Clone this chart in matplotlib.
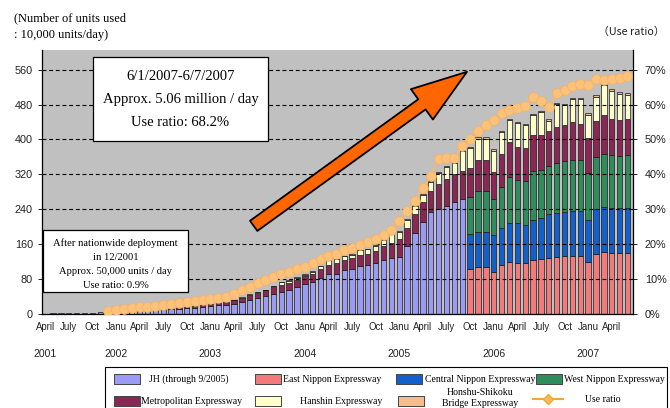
import numpy as np
import matplotlib
matplotlib.use('Agg')
import matplotlib.pyplot as plt
from matplotlib.patches import Rectangle
from matplotlib.lines import Line2D

# ---------------- data (monthly, April 2001 .. June 2007; units: 10,000 units/day) ----------------
jh = [1.0, 1.2, 1.5, 1.8, 2.0, 2.4, 2.8, 3.5,
      4.5, 5.3, 6.1, 6.9, 7.6, 8.4, 9.2, 10.4, 11.6, 12.3, 13.5, 14.6,
      16.5, 19, 19.5, 21,
      24, 28, 32, 36, 41, 46, 51, 56, 61, 68, 73, 82, 91, 92, 100, 104, 110, 112, 116, 124, 128,
      131, 155, 185, 210, 233, 241, 248, 257, 263] + [0] * 21
east = [0] * 54 + [102, 107, 107, 97, 112, 120, 118, 117, 123, 125, 129, 131, 132, 134, 134, 120, 137, 141, 139, 139, 140]
central = [0] * 54 + [81, 82, 81, 84, 84, 89, 90, 88, 92, 95, 100, 100, 101, 102, 102, 95, 104, 105, 104, 103, 103]
west = [0] * 54 + [86, 93, 93, 82, 96, 106, 98, 100, 113, 110, 111, 114, 117, 117, 117, 107, 118, 120, 121, 121, 121]
metro = [0] * 8 + [0.5, 0.7, 0.9, 1.1, 1.4, 1.6, 1.8, 2.1, 2.4, 2.7, 3.0, 3.4,
                   4.5, 5, 5.5, 6,
                   7, 8, 11, 12, 13, 15, 16, 16, 17, 18, 19, 21, 22, 24, 24, 24, 25, 26, 28, 31, 34,
                   40, 42, 44, 46, 48, 58, 62, 63, 65,
                   65, 71, 72, 63, 75, 80, 76, 75, 82, 80, 80, 83, 82, 87, 83, 81, 84, 89, 83, 81, 82]
hanshin = [0] * 24 + [1.5, 1.5, 1.5, 1.5, 1.5, 2.5, 6, 4, 5, 4, 5, 7, 10, 9, 9, 8, 11, 10, 12, 14, 23,
                      17, 18, 19, 17, 22, 25, 27, 25, 46,
                      46, 49, 49, 48, 50, 50, 56, 53, 45, 53, 23, 53, 47, 52, 57, 54, 55, 69, 65, 61, 57]
honshu = [0] * 24 + [0.5] * 6 + [1] * 11 + [2] * 13 + [3] * 21
use_ratio = [np.nan] * 8 + [0.9, 1.2, 1.4, 1.6, 1.9, 2.1, 2.3, 2.6, 2.8, 3.1, 3.4, 3.6,
                            4.0, 4.2, 4.5, 5.0,
                            5.7, 6.9, 7.8, 8.8, 9.8, 10.7, 11.4, 12.1, 12.8, 13.6, 14.5, 15.7, 16.6, 17.2,
                            18.4, 18.8, 19.8, 20.5, 21.4, 22.6, 24.1,
                            26.5, 29.5, 32.5, 36.0, 39.5, 44.5, 44.7, 44.7, 48.0,
                            50.2, 52.5, 54.0, 55.7, 57.6, 58.3, 59.0, 59.7, 62.3, 61.0, 59.4, 63.4, 64.3,
                            65.2, 65.8, 65.7, 67.2, 67.0, 67.4, 67.7, 68.2]

month_tick_labels = ['April', 'July', 'Oct', 'Janu'] * 6 + ['April']
year_labels = ['2001', '2002', '2003', '2004', '2005', '2006', '2007']
year_label_months = [0, 9, 21, 33, 45, 57, 69]
left_ticks = [0, 80, 160, 240, 320, 400, 480, 560]
right_ticks = [0, 10, 20, 30, 40, 50, 60, 70]

series_names = ['JH (through 9/2005)', 'East Nippon Expressway', 'Central Nippon Expressway',
                'West Nippon Expressway', 'Metropolitan Expressway', 'Hanshin Expressway',
                'Honshu-Shikoku\nBridge Expressway', 'Use ratio']

# ---------------- style ----------------
W, H = 670, 408
SERIF = 'Liberation Serif'
SANS = 'Liberation Sans'
colors = {'jh': '#9b9bf5', 'east': '#f27a7a', 'central': '#1160cc', 'west': '#2f8c5c',
          'metro': '#8c2654', 'hanshin': '#ffffcc', 'honshu': '#f5bd8e'}
ratio_color = '#fdb862'
LEG_FS = 7.0


def fx(px):
    return px / W


def fy(py):
    return 1 - py / H


fig = plt.figure(figsize=(W / 100, H / 100), dpi=100)
ax = fig.add_axes([fx(42), fy(314), (633 - 42) / W, (314 - 50) / H])
ax.set_facecolor('#c0c0c0')

x = np.arange(len(jh))
bottom = np.zeros(len(jh))
stack = [(jh, colors['jh']), (east, colors['east']), (central, colors['central']), (west, colors['west']),
         (metro, colors['metro']), (hanshin, colors['hanshin']), (honshu, colors['honshu'])]
for vals, col in stack:
    v = np.array(vals, dtype=float)
    m = v > 0
    ax.bar(x[m], v[m], 0.68, bottom=bottom[m], color=col, edgecolor='#1a1a1a', linewidth=0.5, zorder=1)
    bottom += v

ax.set_xlim(-0.4, 74.7)
ax.set_ylim(0, 605)
ax.set_yticks(left_ticks)
ax.set_yticklabels([str(t) for t in left_ticks], family=SANS, fontsize=7.8, color='#222222')
ax.tick_params(axis='y', length=3, pad=3.5, width=0.6)
ax.set_xticks([])
ax.yaxis.grid(True, linestyle=(0, (3.5, 2.5)), color='black', linewidth=0.8)
ax.set_axisbelow(False)
for s in ['top', 'right']:
    ax.spines[s].set_visible(False)
ax.spines['left'].set_linewidth(0.9)
ax.spines['bottom'].set_linewidth(0.9)

# month / year labels
for k, lab in enumerate(month_tick_labels):
    ax.text(3 * k, -0.049, lab, transform=ax.get_xaxis_transform(), ha='center', va='center',
            family=SANS, fontsize=6.9, color='#222222')
for m_i, lab in zip(year_label_months, year_labels):
    ax.text(m_i, -0.152, lab, transform=ax.get_xaxis_transform(), ha='center', va='center',
            family=SANS, fontsize=7.5, color='#222222')

# use ratio on right axis
ax2 = ax.twinx()
ax2.plot(x, use_ratio, color=ratio_color, linewidth=1.2, marker='o', markersize=7,
         markerfacecolor='#fdc27a', markeredgecolor='#f9b062', markeredgewidth=0.5, zorder=5)
ax2.set_ylim(0, 605 / 8)
ax2.set_yticks(right_ticks)
ax2.set_yticklabels([f'{t}%' for t in right_ticks], family=SANS, fontsize=7.8, color='#222222')
ax2.tick_params(axis='y', length=3, pad=5.5, width=0.6)
for s in ['top', 'left', 'bottom']:
    ax2.spines[s].set_visible(False)
ax2.spines['right'].set_linewidth(0.9)

# big arrow
ax2.annotate('', xy=(53.6, 555 / 8), xytext=(26.5, 202 / 8),
             arrowprops=dict(arrowstyle='simple,head_length=2.0,head_width=1.35,tail_width=0.45',
                             fc='#ff6600', ec='black', lw=1.3, mutation_scale=20,
                             shrinkA=0, shrinkB=0), zorder=6)

# annotation boxes
fig.add_artist(Rectangle((fx(93), fy(141)), (268 - 93) / W, (141 - 57) / H, transform=fig.transFigure,
                         facecolor='white', edgecolor='black', linewidth=0.9, zorder=3))
for yy, t in zip([76, 100, 123], ['6/1/2007-6/7/2007', 'Approx. 5.06 million / day', 'Use ratio: 68.2%']):
    fig.text(fx(180.5), fy(yy), t, ha='center', va='center', family=SERIF, fontsize=10.5, zorder=4)

fig.add_artist(Rectangle((fx(43), fy(292)), (188 - 43) / W, (292 - 230) / H, transform=fig.transFigure,
                         facecolor='white', edgecolor='black', linewidth=0.9, zorder=3))
for yy, t in zip([243, 257, 271, 285], ['After nationwide deployment', 'in 12/2001',
                                        'Approx. 50,000 units / day', 'Use ratio: 0.9%']):
    fig.text(fx(115.5), fy(yy), t, ha='center', va='center', family=SERIF, fontsize=7.6, zorder=4)

# axis titles
fig.text(fx(14), fy(18), '(Number of units used', ha='left', va='center', family=SERIF, fontsize=9)
fig.text(fx(14), fy(35), ': 10,000 units/day)', ha='left', va='center', family=SERIF, fontsize=9)
fig.text(fx(598), fy(32), '（Use ratio）', ha='left', va='center',
         family=['Noto Sans CJK JP', 'DejaVu Sans'], fontsize=7.8, color='#222222')

# legend (manual layout)
fig.add_artist(Rectangle((fx(105), fy(412)), (667 - 105) / W, (412 - 367) / H, transform=fig.transFigure,
                         facecolor='white', edgecolor='black', linewidth=0.8, zorder=3))
leg_cols = [colors['jh'], colors['east'], colors['central'], colors['west'],
            colors['metro'], colors['hanshin'], colors['honshu']]
sw_x = [114, 255, 396, 536, 114, 255, 398]
sw_y = [374, 374, 374, 374, 396, 396, 396]
txt_x = [149, 283, 425, 564, 141, 300, 440]
for k in range(7):
    fig.add_artist(Rectangle((fx(sw_x[k]), fy(sw_y[k] + 10)), 26 / W, 10 / H, transform=fig.transFigure,
                             facecolor=leg_cols[k], edgecolor='#444444', linewidth=0.7, zorder=4))
for k in range(6):
    fig.text(fx(txt_x[k]), fy(sw_y[k] + 5), series_names[k], ha='left', va='center',
             family=SERIF, fontsize=LEG_FS, zorder=5)
fig.text(fx(480), fy(398), series_names[6], ha='center', va='center', family=SERIF, fontsize=LEG_FS,
         linespacing=1.3, zorder=5)
fig.add_artist(Line2D([fx(533), fx(563)], [fy(399), fy(399)], transform=fig.transFigure, color='#f5a732',
                      linewidth=1.5, zorder=5))
fig.add_artist(Line2D([fx(548)], [fy(399)], transform=fig.transFigure, marker='D', markersize=5,
                      color='#fdb862', markeredgecolor='#f5a732', zorder=6))
fig.text(fx(585), fy(399), series_names[7], ha='left', va='center', family=SERIF, fontsize=LEG_FS, zorder=5)

fig.savefig('out.png', dpi=100)
